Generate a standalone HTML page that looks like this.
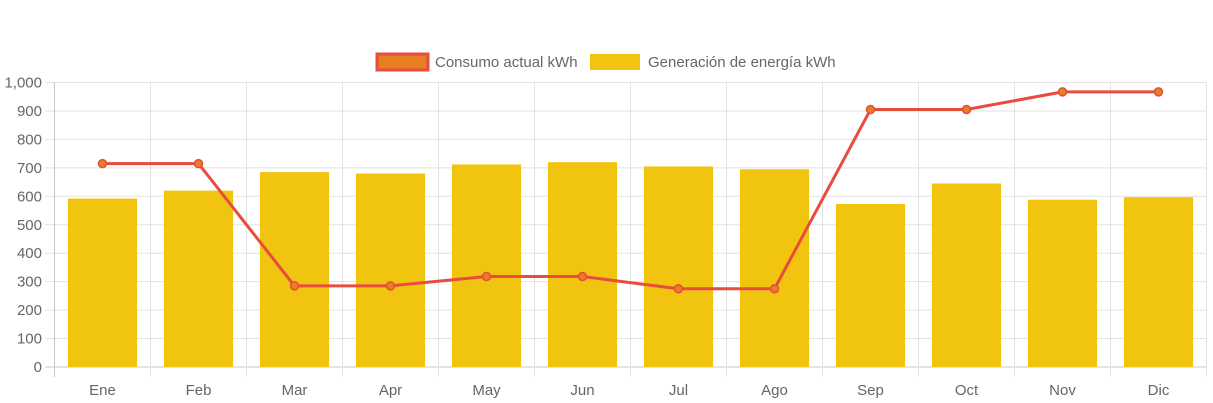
<!DOCTYPE html>
<html><head><meta charset="utf-8"><style>
body{margin:0;background:#fff;font-family:"Liberation Sans",sans-serif}
</style></head><body>
<svg id="c" width="1213" height="403" style="display:block"></svg>
<script>
const categories=["Ene","Feb","Mar","Apr","May","Jun","Jul","Ago","Sep","Oct","Nov","Dic"];
const generation=[592,620,685,680,712,720,705,695,573,645,588,597];
const consumption=[715,715,285,285,318,318,275,275,905,905,967,967];
const yTicks=[0,100,200,300,400,500,600,700,800,900,1000];
const yTickLabels=["0","100","200","300","400","500","600","700","800","900","1,000"];
const NS="http://www.w3.org/2000/svg",svg=document.getElementById('c');
const L=54.5,R=1206.5,T=82.5,B=367;
const cw=(R-L)/categories.length;
const y=v=>B-(v/1000)*(B-T);
const x=i=>L+cw*(i+0.5);
function mk(t,a,p){const e=document.createElementNS(NS,t);for(const k in a)e.setAttribute(k,a[k]);(p||svg).appendChild(e);return e;}
yTicks.forEach((v,i)=>{
 const g=mk('line',{x1:45,x2:R,y1:y(v),y2:y(v),stroke:i==0?'#c8c8c8':'#e2e2e2','stroke-width':1});
 
 
 const t=mk('text',{x:42,y:y(v)+5,'text-anchor':'end','font-size':15,fill:'#666'});
 t.textContent=yTickLabels[i];
 
 
});
for(let i=0;i<=categories.length;i++){
 const g=mk('line',{x1:L+cw*i,x2:L+cw*i,y1:T,y2:377,stroke:i==0?'#c8c8c8':'#e2e2e2','stroke-width':1});
 
 
}
categories.forEach((c,i)=>{
 const t=mk('text',{x:x(i),y:395,'text-anchor':'middle','font-size':15,fill:'#666'});
 t.textContent=c;
 
 
});
const bw=cw*0.72;
generation.forEach((v,i)=>{
 const r=mk('rect',{x:x(i)-bw/2,y:y(v),width:bw,height:B-y(v),fill:'#f1c40f'});
 
 
});
const pl=mk('polyline',{points:consumption.map((v,i)=>x(i)+','+y(v)).join(' '),fill:'none',stroke:'#e74c3c','stroke-width':3,'stroke-linejoin':'round'});


consumption.forEach((v,i)=>{
 const p=mk('circle',{cx:x(i),cy:y(v),r:4,fill:'#e67e22',stroke:'#e74c3c','stroke-width':1.5});
 
 
});
const g1=mk('g',{});


mk('rect',{x:377,y:54,width:51,height:16,fill:'#e67e22',stroke:'#e74c3c','stroke-width':3},g1);
const t1=mk('text',{x:435,y:67,'font-size':15,fill:'#666'},g1);t1.textContent='Consumo actual kWh';
const g2=mk('g',{});


mk('rect',{x:590,y:54,width:50,height:16,fill:'#f1c40f'},g2);
const t2=mk('text',{x:648,y:67,'font-size':15,fill:'#666'},g2);t2.textContent='Generación de energía kWh';
</script>
</body></html>
